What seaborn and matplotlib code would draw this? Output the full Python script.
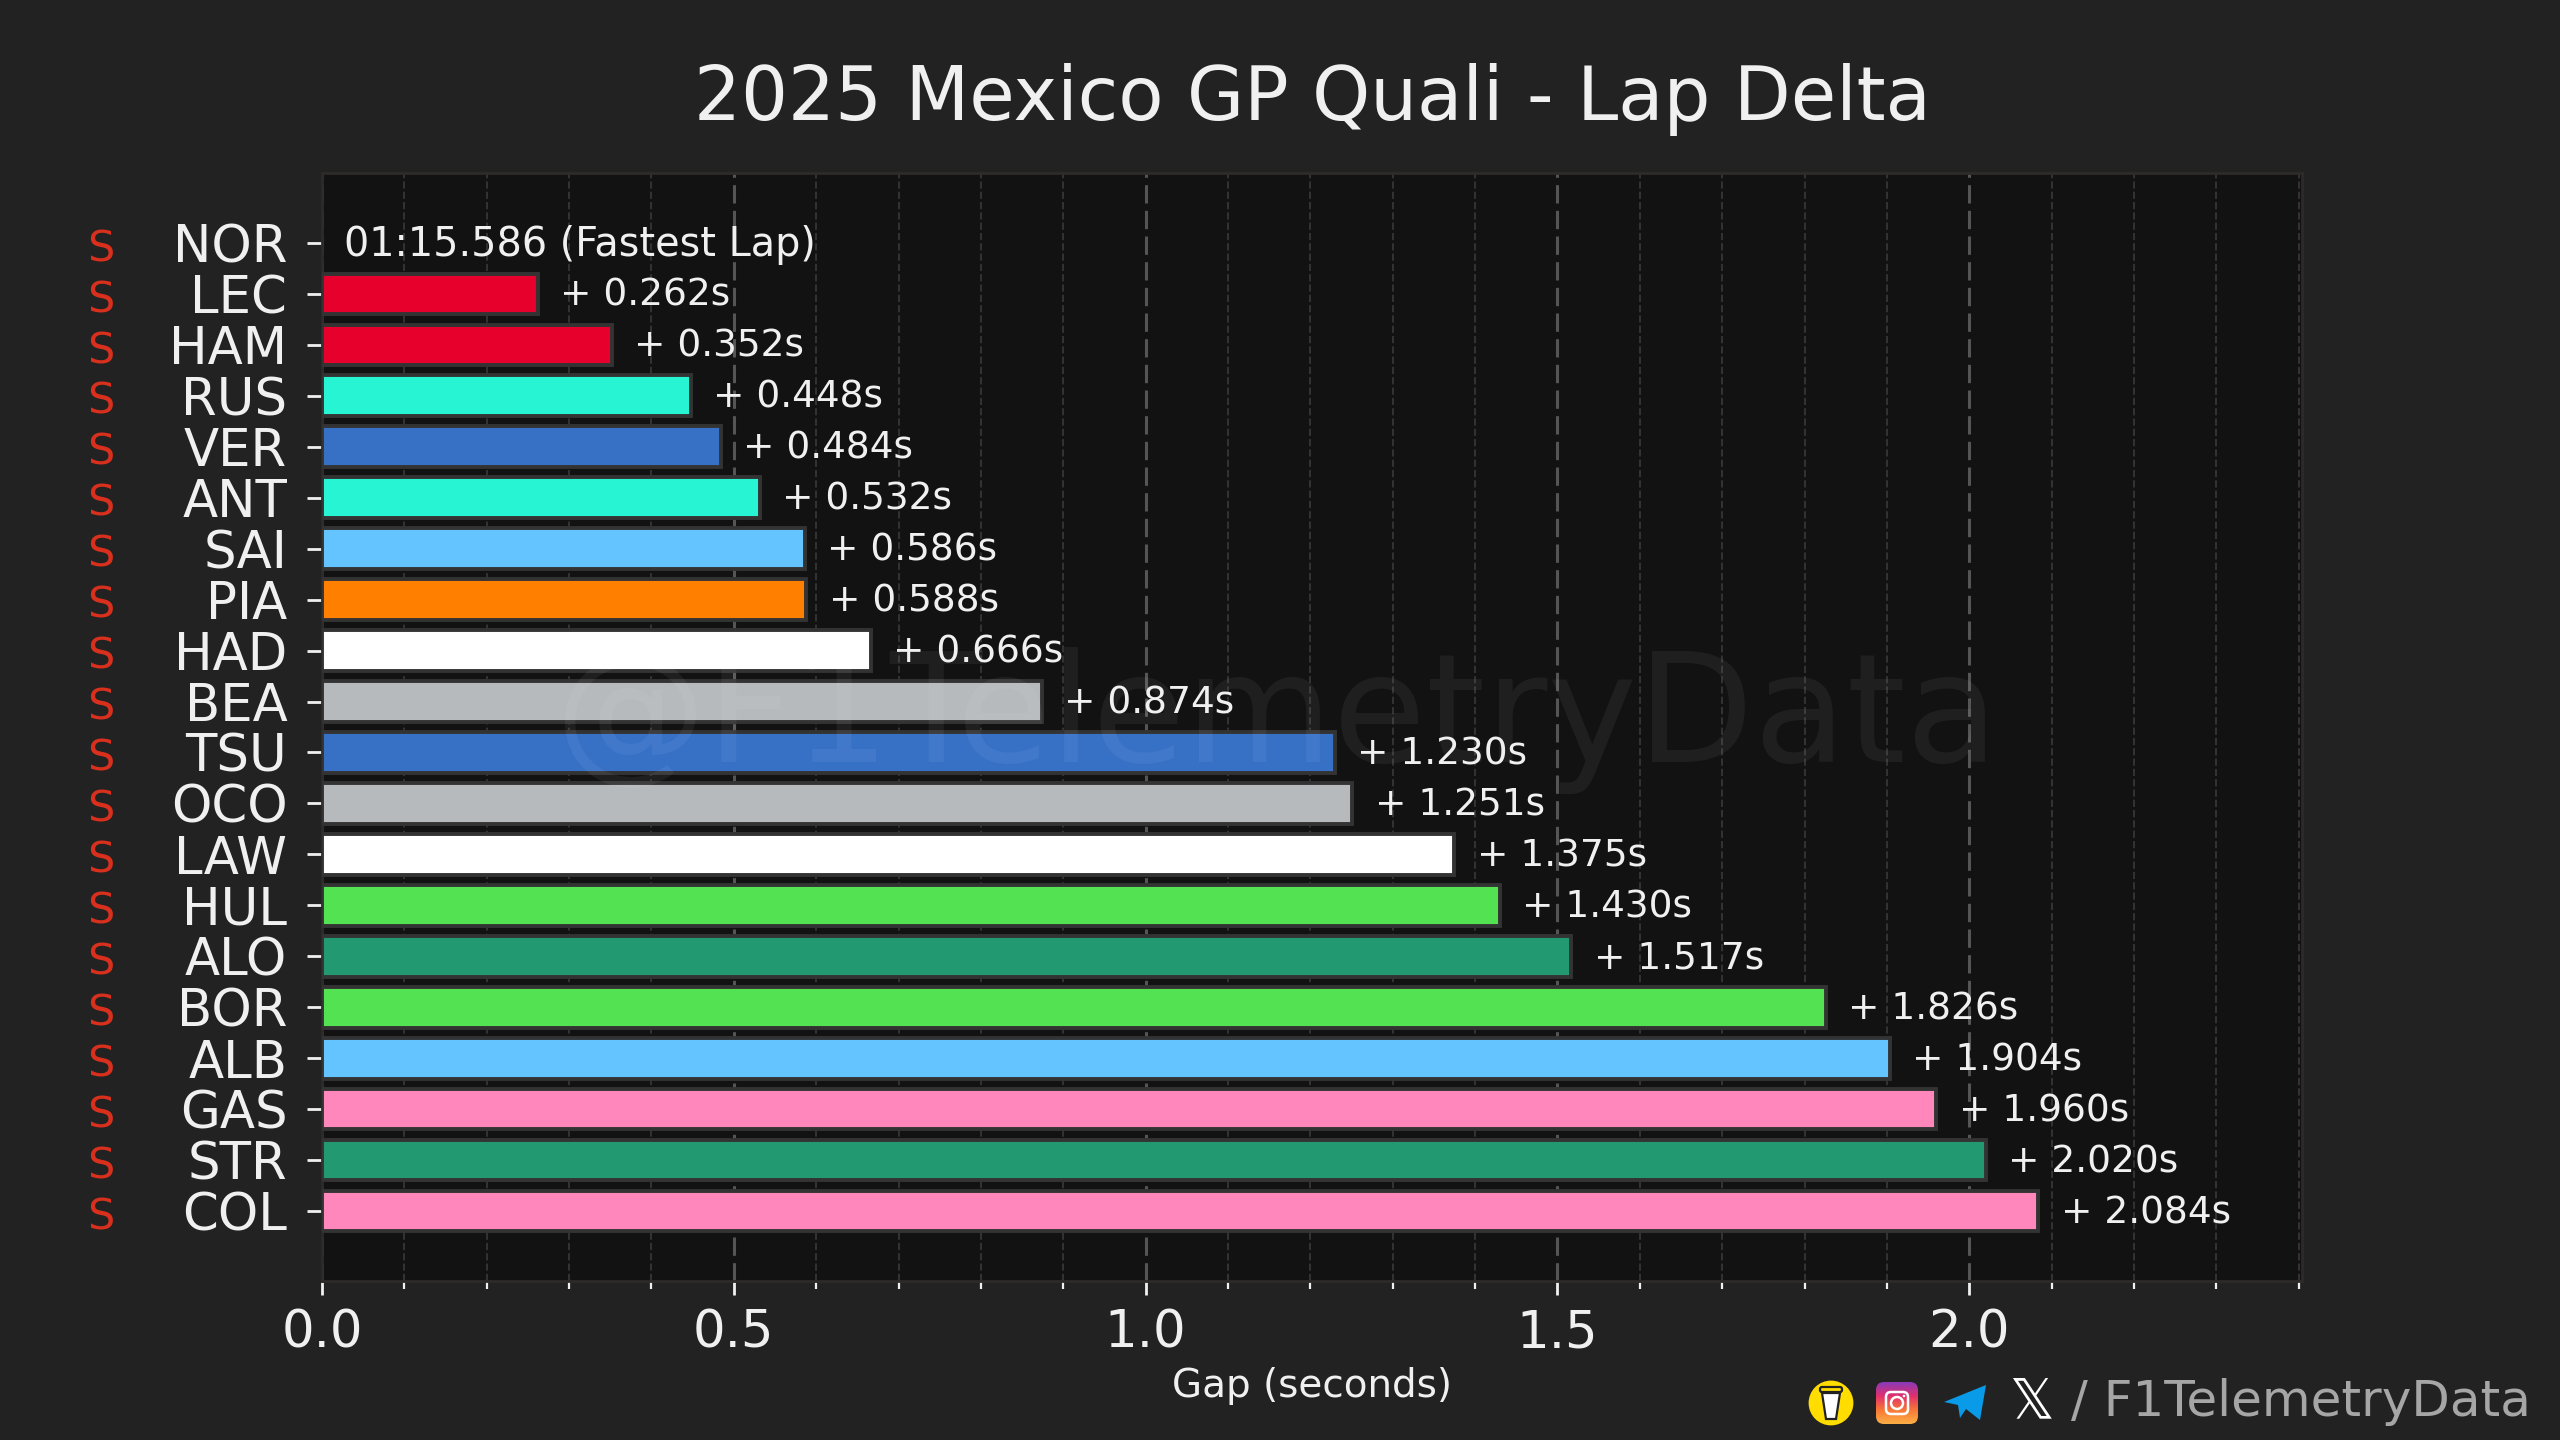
import numpy as np
import pandas as pd
import matplotlib
matplotlib.use("Agg")
import matplotlib.pyplot as plt
from matplotlib.patches import Circle, FancyBboxPatch, Polygon
from matplotlib.ticker import MultipleLocator
import seaborn as sns

# ---------------------------------------------------------------------------
# DATA
# ---------------------------------------------------------------------------
DRIVERS = ["NOR", "LEC", "HAM", "RUS", "VER", "ANT", "SAI", "PIA", "HAD", "BEA",
           "TSU", "OCO", "LAW", "HUL", "ALO", "BOR", "ALB", "GAS", "STR", "COL"]
GAPS = [0.000, 0.262, 0.352, 0.448, 0.484, 0.532, 0.586, 0.588, 0.666, 0.874,
        1.230, 1.251, 1.375, 1.430, 1.517, 1.826, 1.904, 1.960, 2.020, 2.084]
COLORS = ["#FF8000", "#E8002D", "#E8002D", "#27F4D2", "#3671C6", "#27F4D2",
          "#64C4FF", "#FF8000", "#FFFFFF", "#B6BABD", "#3671C6", "#B6BABD",
          "#FFFFFF", "#52E252", "#229971", "#52E252", "#64C4FF", "#FF87BC",
          "#229971", "#FF87BC"]
TYRES = ["S"] * len(DRIVERS)
FASTEST_LAP = "01:15.586 (Fastest Lap)"
TITLE = "2025 Mexico GP Quali - Lap Delta"

BG = "#222222"
PANEL = "#121212"
EDGE = "#333333"
SPINE = "#2e2a2a"
TEXT = "#f0f0f0"
W, H = 2560, 1440

sns.set_theme(style="dark")
plt.rcParams["font.family"] = ["DejaVu Sans"]

df = pd.DataFrame({"driver": DRIVERS, "gap": GAPS})

fig = plt.figure(figsize=(12.8, 7.2), dpi=200, facecolor=BG)
ax = fig.add_axes([322 / W, 1 - 1281 / H, (2302 - 322) / W, (1281 - 173) / H], facecolor=PANEL)

sns.barplot(data=df, x="gap", y="driver", hue="driver", palette=COLORS, dodge=False,
            legend=False, width=0.8, saturation=1, edgecolor=EDGE, linewidth=1.4, ax=ax, zorder=3)

# the fastest driver has no gap, so no bar outline either
for patch in ax.patches:
    if patch.get_width() == 0:
        patch.set_visible(False)

ax.set_xlim(0, 2.404)
ax.set_ylim(20.374, -1.374)

# ---------------------------------------------------------------------------
# GRID, TICKS, SPINES
# ---------------------------------------------------------------------------
ax.xaxis.set_major_locator(MultipleLocator(0.5))
ax.xaxis.set_minor_locator(MultipleLocator(0.1))
ax.set_axisbelow(True)
ax.grid(False, axis="y")
ax.grid(True, axis="x", which="major", color="#555555", lw=1.1, ls=(0, (6, 2.4)))
ax.grid(True, axis="x", which="minor", color="#333333", lw=0.7, ls="--")
ax.tick_params(axis="x", which="major", length=5, width=1, color=TEXT, labelcolor=TEXT,
               labelsize=18.5, pad=5, bottom=True)
ax.tick_params(axis="x", which="minor", length=2.8, width=0.8, color=TEXT, bottom=True)
ax.tick_params(axis="y", length=5.5, width=1, color=TEXT, labelcolor=TEXT, labelsize=18.5,
               pad=7, left=True)
for spine in ax.spines.values():
    spine.set_color(SPINE)
    spine.set_linewidth(1.0)

ax.set_ylabel("")
ax.set_xlabel("Gap (seconds)", color=TEXT, fontsize=14, labelpad=3)

# ---------------------------------------------------------------------------
# TEXT ON THE AXES
# ---------------------------------------------------------------------------
for i, (drv, gap, tyre) in enumerate(zip(DRIVERS, GAPS, TYRES)):
    label = FASTEST_LAP if gap == 0 else f"+ {gap:.3f}s"
    size = 14.3 if gap == 0 else 13.5
    ax.text(gap + 0.027, i + 0.04, label, color=TEXT, fontsize=size, va="center", ha="left", zorder=5)
    ax.text(-0.1116, i + 0.12, tyre, color="#d9301e", fontsize=15.5, va="center", ha="center",
            transform=ax.get_yaxis_transform(), clip_on=False)

fig.text(1277 / W, 1 - 720 / H, "@F1TelemetryData", color="white", alpha=0.055,
         fontsize=54.5, ha="center", va="center", zorder=10)
fig.text(1312 / W, 1 - 100 / H, TITLE, color=TEXT, fontsize=26.6, ha="center", va="center")

# ---------------------------------------------------------------------------
# FOOTER ICONS (pixel coordinates overlay)
# ---------------------------------------------------------------------------
over = fig.add_axes([0, 0, 1, 1], facecolor="none")
over.set_xlim(0, W)
over.set_ylim(H, 0)
over.axis("off")

cy = 1403
over.add_patch(Circle((1831, cy), 21, color="#FFDD00"))
over.add_patch(Polygon([(1822, cy - 10), (1840, cy - 10), (1836, cy + 16), (1826, cy + 16)],
                       closed=True, fc="white", ec="#222222", lw=0.8))
over.add_patch(FancyBboxPatch((1820, cy - 16), 22, 5, boxstyle="round,pad=0,rounding_size=2",
                              fc="#FFDD00", ec="#222222", lw=0.8))

box = FancyBboxPatch((1878, cy - 19), 38, 38, boxstyle="round,pad=2,rounding_size=8", fc="none", ec="none")
over.add_patch(box)
grad = np.linspace(0, 1, 64).reshape(-1, 1)
img = over.imshow(grad, cmap=matplotlib.colors.LinearSegmentedColormap.from_list(
    "insta", ["#8a3ab9", "#e1306c", "#f77737", "#fcaf45"]),
    extent=(1876, 1918, cy + 21, cy - 21), aspect="auto", zorder=2)
img.set_clip_path(box)
over.set_xlim(0, W)
over.set_ylim(H, 0)
over.add_patch(FancyBboxPatch((1886, cy - 11), 22, 22, boxstyle="round,pad=0,rounding_size=5",
                              fc="none", ec="white", lw=0.9, zorder=3))
over.add_patch(Circle((1897, cy), 6, fc="none", ec="white", lw=0.9, zorder=3))
over.add_patch(Circle((1904, cy - 7), 1.3, fc="white", ec="none", zorder=3))

over.add_patch(Polygon([(1944, cy - 1), (1986, cy - 18), (1980, cy + 17), (1966, cy + 6),
                        (1960, cy + 15), (1958, cy + 2)], closed=True, fc="#0A9BE8", ec="none"))

over.text(2031, cy - 1, "\U0001D54F", color="white", fontsize=20, ha="center", va="center")
over.text(2531, cy - 1, "/ F1TelemetryData", color="#a6a6a6", fontsize=18, ha="right", va="center")

fig.savefig("out.png", dpi=200, facecolor=BG)
plt.close(fig)
